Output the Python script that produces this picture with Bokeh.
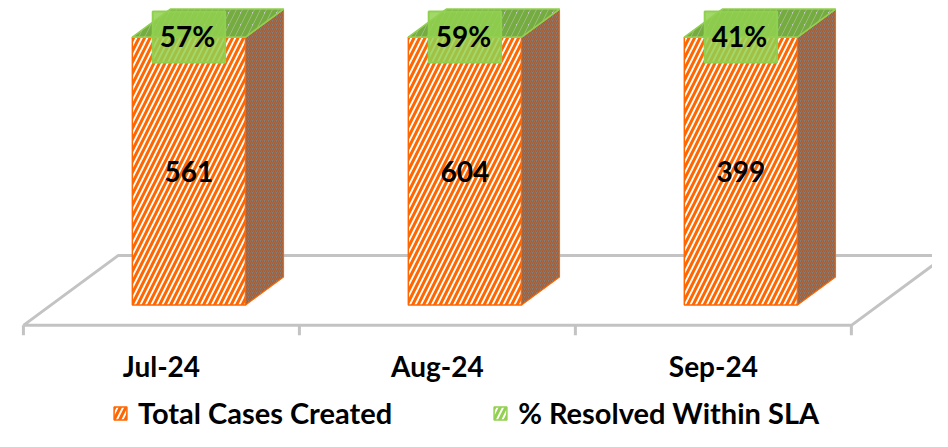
from bokeh.plotting import figure
from bokeh.models import Range1d, ColumnDataSource, Legend, LegendItem
from bokeh.core.properties import value
from bokeh.embed import file_html
from bokeh.resources import INLINE

# ---- data ----
months = ["Jul-24", "Aug-24", "Sep-24"]
total_cases = [561, 604, 399]
pct_resolved = [0.57, 0.59, 0.41]
pct_labels = ["57%", "59%", "41%"]

FONT = "Lato"

# ---- pseudo-3D projection constants (data units) ----
DX, DY = 0.344, 0.261     # screen shift for full floor depth
D0, D1 = 0.29, 0.69       # bar depth span
BW = 0.41                 # bar width (category units)

def proj(x, h, d):
    return x + d * DX, h + d * DY

p = figure(width=932, height=431, output_backend="svg", toolbar_location=None,
           x_range=Range1d(-0.583, 2.794), y_range=Range1d(-0.396, 1.212),
           x_axis_type=None, y_axis_type=None, min_border=0)
p.grid.visible = False
p.outline_line_color = None

# 100% stacked shares
sums = [t + q for t, q in zip(total_cases, pct_resolved)]
orange_share = [t / s for t, s in zip(total_cases, sums)]
top_share = [1.0 for _ in sums]
idx = list(range(len(months)))

# ---- floor ----
fl = [proj(x, 0, d) for x, d in [(-0.5, 0), (2.5, 0), (2.5, 1), (-0.5, 1), (-0.5, 0)]]
p.line([a for a, b in fl], [b for a, b in fl], line_color="#c3c3c3", line_width=3)
for xb in [-0.5, 0.5, 1.5, 2.5]:
    p.line([xb, xb], [0, -0.037], line_color="#c3c3c3", line_width=3)

# ---- faces ----
def front(lo, hi):
    xs0, xs1, ys0, ys1 = [], [], [], []
    for i in idx:
        a, b = proj(i - BW / 2, lo[i], D0)
        c, e = proj(i + BW / 2, hi[i], D0)
        xs0.append(a); ys0.append(b); xs1.append(c); ys1.append(e)
    return dict(left=xs0, right=xs1, bottom=ys0, top=ys1)

def side(lo, hi):
    xs, ys = [], []
    for i in idx:
        pts = [proj(i + BW / 2, lo[i], D0), proj(i + BW / 2, lo[i], D1),
               proj(i + BW / 2, hi[i], D1), proj(i + BW / 2, hi[i], D0)]
        xs.append([q[0] for q in pts]); ys.append([q[1] for q in pts])
    return dict(xs=xs, ys=ys)

def topface(h):
    xs, ys = [], []
    for i in idx:
        pts = [proj(i - BW / 2, h[i], D0), proj(i + BW / 2, h[i], D0),
               proj(i + BW / 2, h[i], D1), proj(i - BW / 2, h[i], D1)]
        xs.append([q[0] for q in pts]); ys.append([q[1] for q in pts])
    return dict(xs=xs, ys=ys)

zeros = [0 for _ in idx]
ORANGE = "#FF6600"
GREEN = "#92D050"

of = p.quad(source=ColumnDataSource(front(zeros, orange_share)),
            fill_color="white", hatch_pattern="/", hatch_color=ORANGE,
            hatch_weight=3, hatch_scale=11, line_color=ORANGE, line_width=1.5)
gf = p.quad(source=ColumnDataSource(front(orange_share, top_share)),
            fill_color="white", hatch_pattern="/", hatch_color=GREEN,
            hatch_weight=3, hatch_scale=11, line_color=GREEN, line_width=1.5)
p.patches(source=ColumnDataSource(side(zeros, orange_share)),
          fill_color="#808080", hatch_pattern="/", hatch_color="#b8561c",
          hatch_weight=1.2, hatch_scale=4, line_color=ORANGE, line_width=1.2)
p.patches(source=ColumnDataSource(side(orange_share, top_share)),
          fill_color="#6a8a4a", line_color=GREEN, line_width=1.2)
p.patches(source=ColumnDataSource(topface(top_share)),
          fill_color="#c9c9c9", hatch_pattern="/", hatch_color="#74ac40",
          hatch_weight=5, hatch_scale=12, line_color=GREEN, line_width=1.5)

# ---- labels ----
vx, vy = [], []
for i in idx:
    a, b = proj(i, orange_share[i] / 2, D0)
    vx.append(a); vy.append(b)
p.text(x=vx, y=vy, text=[str(t) for t in total_cases], text_align="center",
       text_baseline="middle", text_font=value(FONT), text_font_size="28px",
       text_font_style="bold", text_color="black")

px_, py_ = [], []
for i in idx:
    a, b = proj(i, top_share[i], D0)
    px_.append(a); py_.append(b)
p.text(x=px_, y=py_, text=pct_labels, text_align="center",
       text_baseline="middle", text_font=value(FONT), text_font_size="28px",
       text_font_style="bold", text_color="black",
       background_fill_color=GREEN, background_fill_alpha=0.85,
       border_line_color="#8fd14f", border_line_width=2, padding=[7, 10, 7, 10])

p.text(x=idx, y=[-0.150] * 3, text=months, text_align="center",
       text_baseline="middle", text_font=value(FONT), text_font_size="28px",
       text_font_style="bold", text_color="black")

legend = Legend(items=[LegendItem(label="Total Cases Created", renderers=[of]),
                       LegendItem(label="% Resolved Within SLA", renderers=[gf])],
                orientation="horizontal", location=(112, 1),
                glyph_width=16, glyph_height=16, label_standoff=10, spacing=100,
                label_text_font=FONT, label_text_font_size="29px",
                label_text_font_style="bold", label_text_color="black",
                border_line_color=None, background_fill_alpha=0,
                padding=0, margin=0)
p.add_layout(legend)

open("out.html", "w").write(file_html(p, INLINE))
